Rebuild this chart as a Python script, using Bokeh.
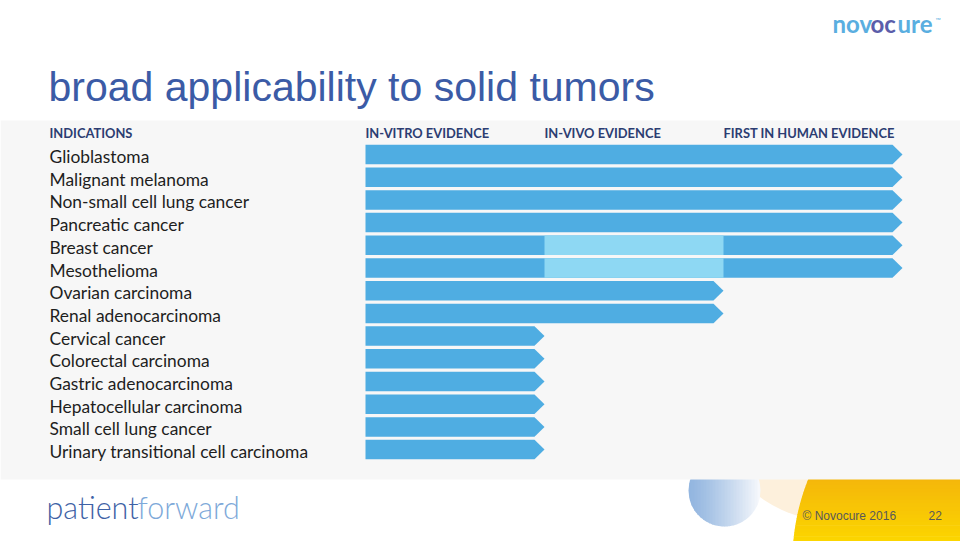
from bokeh.plotting import figure
from bokeh.models import Range1d, ColumnDataSource
from bokeh.core.properties import value
from bokeh.embed import file_html
from bokeh.resources import INLINE
import numpy as np

# ---------------- data ----------------
indications = [
    "Glioblastoma", "Malignant melanoma", "Non-small cell lung cancer",
    "Pancreatic cancer", "Breast cancer", "Mesothelioma", "Ovarian carcinoma",
    "Renal adenocarcinoma", "Cervical cancer", "Colorectal carcinoma",
    "Gastric adenocarcinoma", "Hepatocellular carcinoma",
    "Small cell lung cancer", "Urinary transitional cell carcinoma",
]
# highest evidence stage reached: 1 = in-vitro, 2 = in-vivo, 3 = first in human
stage_reached = [3, 3, 3, 3, 3, 3, 2, 2, 1, 1, 1, 1, 1, 1]
# in-vivo evidence shown lighter (not yet established) for these rows
invivo_light = [0, 0, 0, 0, 1, 1, 0, 0, 0, 0, 0, 0, 0, 0]
stage_headers = ["IN-VITRO EVIDENCE", "IN-VIVO EVIDENCE", "FIRST IN HUMAN EVIDENCE"]
title = "broad applicability to solid tumors"

# ---------------- style ----------------
W, H = 960, 541
DARK = "#4fade2"
LIGHT = "#8ed8f3"
NAVY = "#2c3d72"
TITLE_BLUE = "#3b5ba6"
PANEL = "#f7f7f7"
BODY_FONT = "Lato"
COL_X0, COL_W = 365, 179          # pixel layout of stage columns
ROW_Y0, ROW_P = 154, 22.7         # pixel layout of rows
BAR_HALF = 0.43                   # in row units
ARROW = 10 / COL_W                # arrow tip length in stage units

p = figure(width=W, height=H, x_range=Range1d(0, W), y_range=Range1d(H, 0),
           output_backend="svg", toolbar_location=None, min_border=0,
           background_fill_color="white", border_fill_color="white")
p.axis.visible = False
p.grid.visible = False
p.outline_line_color = None
p.extra_x_ranges = {"stage": Range1d(-COL_X0 / COL_W, (W - COL_X0) / COL_W)}
p.extra_y_ranges = {"row": Range1d((H - ROW_Y0) / ROW_P, -ROW_Y0 / ROW_P)}

# ---------------- decorative footer shapes ----------------
# faint peach arc
p.circle(x=[838], y=[388], radius=134, fill_color="#fdf0dc", line_color=None)
# blue circle with left-to-right fade (vertical slices)
cx, cy, r = 724, 490, 36
c0 = np.array([0x93, 0xb6, 0xe0]); c1 = np.array([0xf6, 0xf8, 0xfc])
n = 24
xs_l, ys_l, cols = [], [], []
for k in range(n):
    a, b = cx - r + 2 * r * k / n, cx - r + 2 * r * (k + 1) / n + 0.6
    t = np.linspace(a, min(b, cx + r), 6)
    h = np.sqrt(np.clip(r * r - (t - cx) ** 2, 0, None))
    xs_l.append(list(t) + list(t[::-1])); ys_l.append(list(cy - h) + list((cy + h)[::-1]))
    c = (c0 + (c1 - c0) * (k / (n - 1)) ** 1.2).astype(int)
    cols.append("#%02x%02x%02x" % tuple(c))
p.patches(xs=xs_l, ys=ys_l, fill_color=cols, line_color=None)
# yellow circle with top-to-bottom shading (horizontal slices)
cx, cy, r = 1010, 560, 218
c0 = np.array([0xf4, 0xb4, 0x0c]); c1 = np.array([0xfc, 0xd6, 0x00])
y_top, y_bot = 470, H + 2
n = 20
xs_l, ys_l, cols = [], [], []
for k in range(n):
    a, b = y_top + (y_bot - y_top) * k / n, y_top + (y_bot - y_top) * (k + 1) / n + 0.6
    t = np.linspace(a, b, 6)
    w = np.sqrt(np.clip(r * r - (t - cy) ** 2, 0, None))
    xs_l.append(list(cx - w) + [W + 5, W + 5]); ys_l.append(list(t) + [b, a])
    c = (c0 + (c1 - c0) * (k / (n - 1))).astype(int)
    cols.append("#%02x%02x%02x" % tuple(c))
p.patches(xs=xs_l, ys=ys_l, fill_color=cols, line_color=None)

# ---------------- grey panel ----------------
p.quad(left=[0], right=[W], top=[120], bottom=[479], fill_color=PANEL, line_color=None)

# ---------------- bars ----------------
bx, by = [], []
for i, s in enumerate(stage_reached):
    body = s - ARROW
    bx.append([0, body, s, body, 0])
    by.append([i - BAR_HALF, i - BAR_HALF, i, i + BAR_HALF, i + BAR_HALF])
p.patches(xs=bx, ys=by, fill_color=DARK, line_color=None,
          x_range_name="stage", y_range_name="row")
li = [i for i, v in enumerate(invivo_light) if v]
p.quad(left=[1.0] * len(li), right=[2.0] * len(li),
       top=[i - BAR_HALF for i in li], bottom=[i + BAR_HALF for i in li],
       fill_color=LIGHT, line_color=None, x_range_name="stage", y_range_name="row")

# ---------------- labels ----------------
src = ColumnDataSource(dict(x=[49] * len(indications), y=list(range(len(indications))),
                            t=indications))
p.text(x="x", y="y", text="t", source=src, y_range_name="row",
       text_font=value(BODY_FONT), text_font_size="17.4px", text_color="#1e1e1e",
       text_baseline="middle", text_align="left", y_offset=2)

p.text(x=[49], y=[132.7], text=["INDICATIONS"], text_font=value(BODY_FONT),
       text_font_size="12.9px", text_font_style="bold", text_color=NAVY,
       text_baseline="middle")
p.text(x=list(range(len(stage_headers))), y=[132.7] * 3, text=stage_headers,
       x_range_name="stage", text_font=value(BODY_FONT), text_font_size="12.9px",
       text_font_style="bold", text_color=NAVY, text_baseline="middle")

# title
p.text(x=[48], y=[86], text=[title], text_font=value("Liberation Sans"),
       text_font_size="41px", text_color=TITLE_BLUE, text_baseline="middle")

# logo
p.text(x=[832, 870, 897], y=[23, 23, 23], text=["nov", "oc", "ure"],
       text_font=value(BODY_FONT), text_font_size="24px", text_font_style="bold",
       text_color=["#5aaee0", "#5b5daa", "#5aaee0"], text_baseline="middle")
p.text(x=[935], y=[19], text=["™"], text_font=value(BODY_FONT), text_font_size="7px",
       text_color="#5aaee0", text_baseline="middle")

# patientforward
p.text(x=[46], y=[506.5], text=["patient"], text_font=value("Lato Light, Lato"),
       text_font_size="30.5px", text_color="#3e62a6", text_baseline="middle")
p.text(x=[137], y=[506.5], text=["forward"], text_font=value("Lato Light, Lato"),
       text_font_size="30.5px", text_color="#7ea9d9", text_baseline="middle")

# footer
p.text(x=[802, 928], y=[515, 515], text=["© Novocure 2016", "22"],
       text_font=value("Liberation Sans"), text_font_size="12px", text_color="#595959",
       text_baseline="middle")

open("out.html", "w").write(file_html(p, INLINE))
